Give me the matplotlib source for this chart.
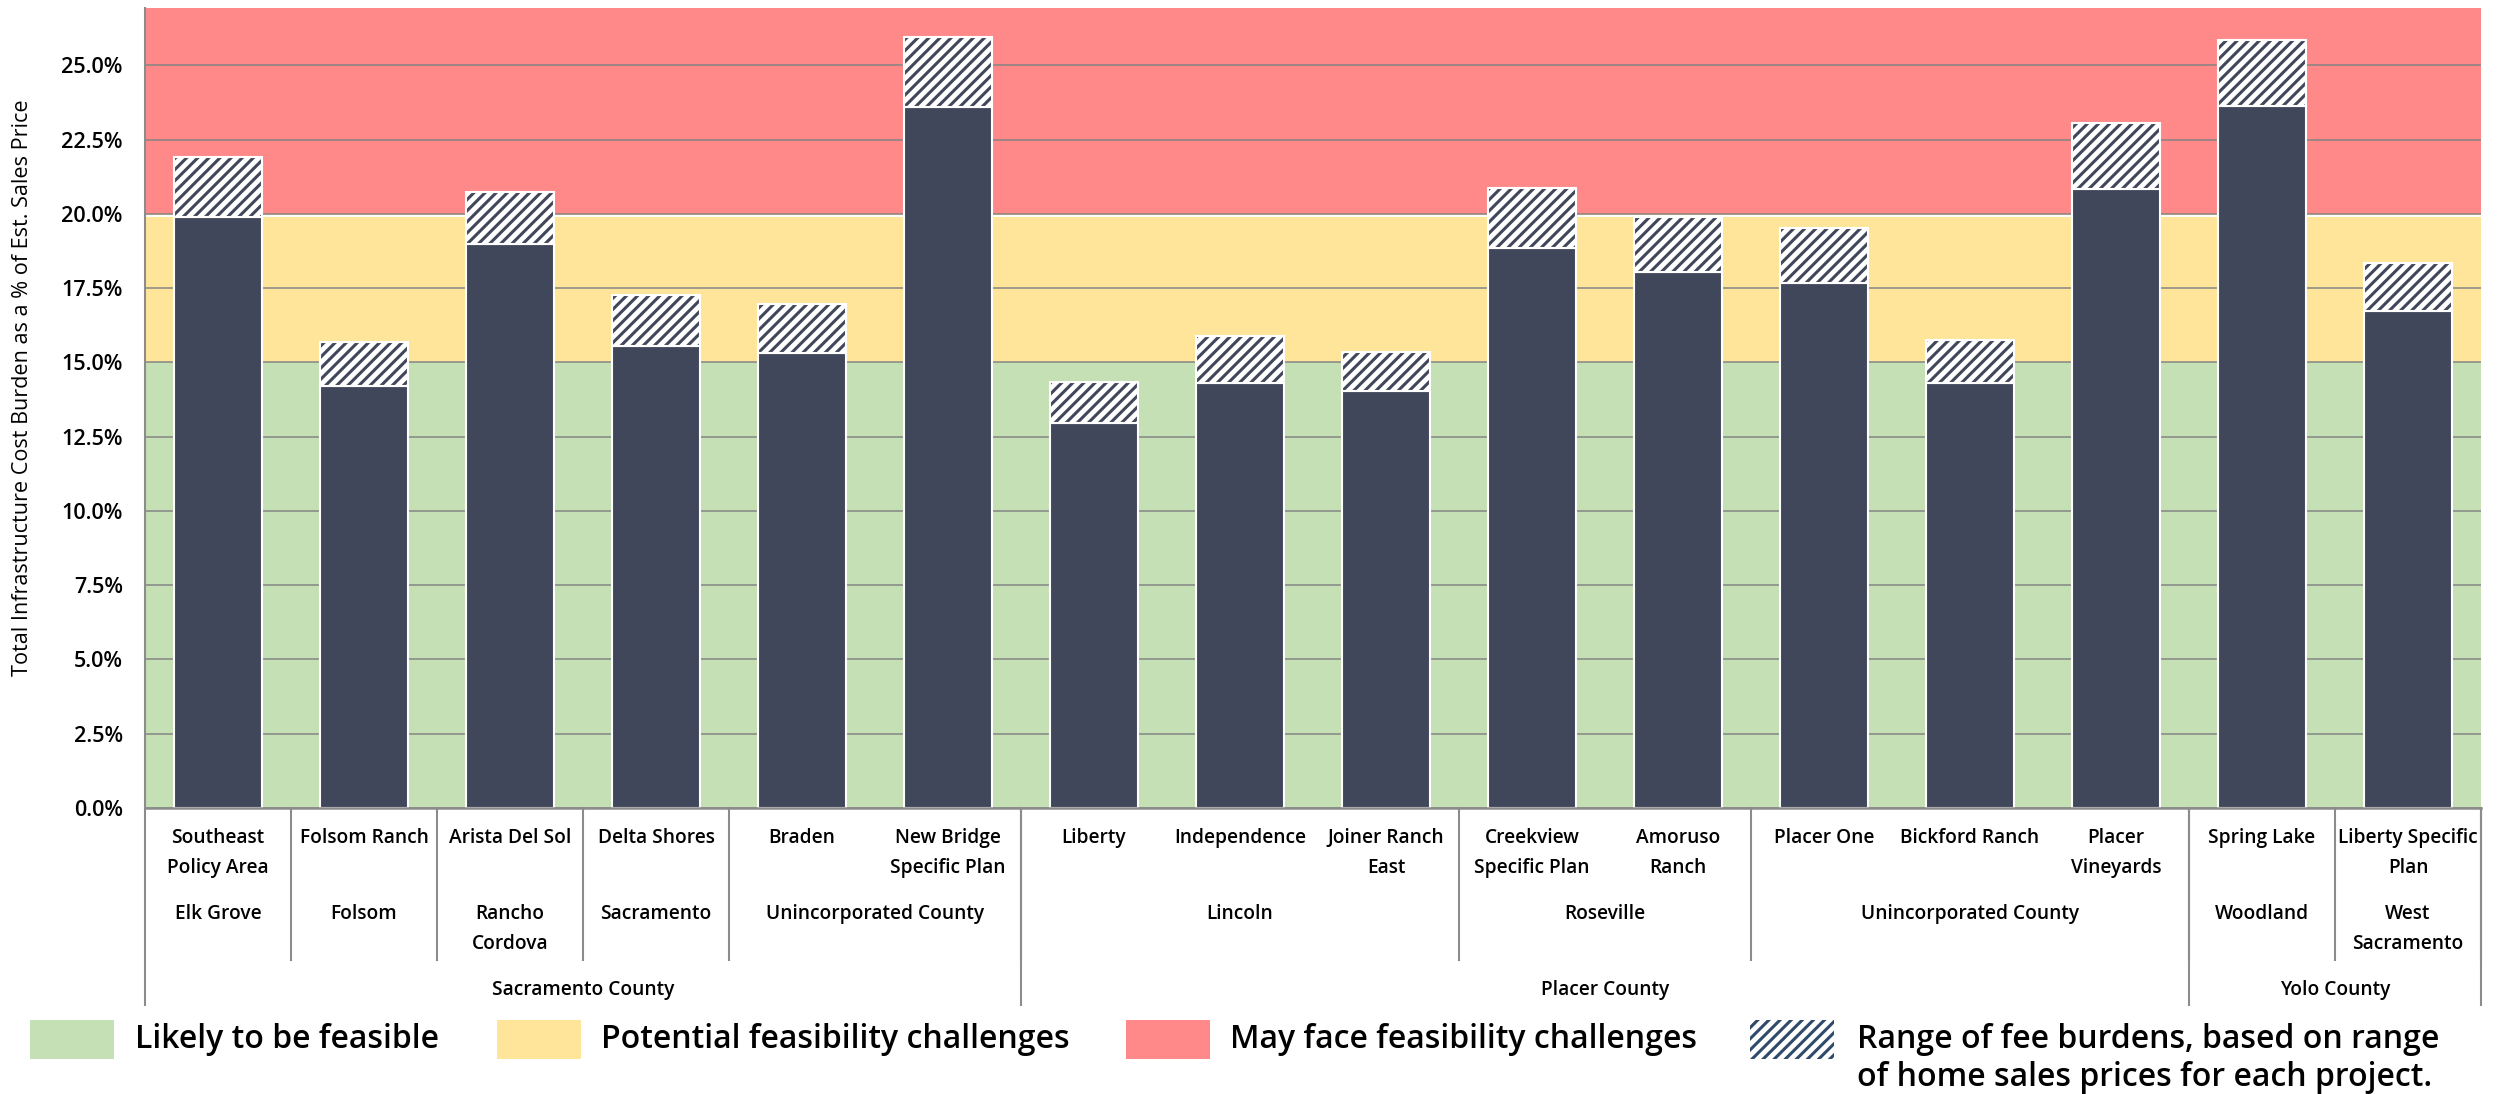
import matplotlib
matplotlib.use("Agg")
import matplotlib.pyplot as plt
from matplotlib.patches import Rectangle
from matplotlib.lines import Line2D
from matplotlib.transforms import blended_transform_factory
from matplotlib.ticker import FuncFormatter

# ---- data -------------------------------------------------------------
projects = [
    "Southeast\nPolicy Area", "Folsom Ranch", "Arista Del Sol", "Delta Shores",
    "Braden", "New Bridge\nSpecific Plan", "Liberty", "Independence",
    "Joiner Ranch\nEast", "Creekview\nSpecific Plan", "Amoruso\nRanch",
    "Placer One", "Bickford Ranch", "Placer\nVineyards", "Spring Lake",
    "Liberty Specific\nPlan",
]
cities = ["Elk Grove", "Folsom", "Rancho\nCordova", "Sacramento",
          "Unincorporated County", "Lincoln", "Roseville",
          "Unincorporated County", "Woodland", "West\nSacramento"]
city_sizes = [1, 1, 1, 1, 2, 3, 2, 3, 1, 1]
counties = ["Sacramento County", "Placer County", "Yolo County"]
county_sizes = [6, 8, 2]

# fee burden (% of est. sales price): low end and high end of range
burden_low = [19.90, 14.21, 18.97, 15.55, 15.30, 23.59, 12.95, 14.31,
              14.03, 18.86, 18.03, 17.68, 14.31, 20.85, 23.62, 16.72]
burden_high = [21.90, 15.67, 20.74, 17.27, 16.95, 25.94, 14.35, 15.90,
               15.34, 20.88, 19.90, 19.53, 15.76, 23.05, 25.84, 18.36]

yticks = [0, 2.5, 5, 7.5, 10, 12.5, 15, 17.5, 20, 22.5, 25]
band_edges = [0, 15, 20]
legend_labels = ["Likely to be feasible", "Potential feasibility challenges",
                 "May face feasibility challenges",
                 "Range of fee burdens, based on range",
                 "of home sales prices for each project."]

# ---- styling ------------------------------------------------------------
GREEN = "#C5E0B4"
YELLOW = "#FFE599"
RED = "#FF8989"
BAR = "#41475A"
GRID = "#858585"
LINE = "#8C8C8C"
YMAX = 26.93
HATCH = "//////"

W, H, DPI = 2501, 1094, 200
plt.rcParams["font.family"] = ["Open Sans", "DejaVu Sans"]
plt.rcParams["font.weight"] = "semibold"
plt.rcParams["hatch.linewidth"] = 1.1

fig = plt.figure(figsize=(W / DPI, H / DPI), dpi=DPI)
ax_left, ax_right, ax_top, ax_bottom = 145, 2481, 8, 808
ax = fig.add_axes([ax_left / W, (H - ax_bottom) / H,
                   (ax_right - ax_left) / W, (ax_bottom - ax_top) / H])

n = len(projects)
x = list(range(n))
ax.set_xlim(-0.5, n - 0.5)
ax.set_ylim(0, YMAX)

# feasibility bands
ax.axhspan(band_edges[0], band_edges[1], color=GREEN, zorder=0, lw=0)
ax.axhspan(band_edges[1], band_edges[2], color=YELLOW, zorder=0, lw=0)
ax.axhspan(band_edges[2], YMAX, color=RED, zorder=0, lw=0)
ax.axhline(band_edges[2] - 0.07, color="white", lw=0.7, zorder=0.5)

ax.set_yticks(yticks)
ax.yaxis.set_major_formatter(FuncFormatter(lambda v, p: f"{v:.1f}%"))
ax.yaxis.grid(True, color=GRID, lw=0.55, zorder=1)
ax.set_axisbelow(True)
ax.tick_params(axis="y", length=0, pad=8, labelsize=7.8)
ax.set_xticks([])
for s in ax.spines.values():
    s.set_visible(False)

ax.set_ylabel("Total Infrastructure Cost Burden as a % of Est. Sales Price",
              fontsize=7.8)
ax.yaxis.set_label_coords((33 - ax_left) / (ax_right - ax_left),
                          (ax_bottom - 388) / (ax_bottom - ax_top))

# bars: solid low end, hatched range on top
width = 0.6
rng = [h - l for h, l in zip(burden_high, burden_low)]
ax.bar(x, burden_low, width=width, color=BAR, edgecolor="white",
       lw=0.75, zorder=2)
ax.bar(x, rng, bottom=burden_low, width=width, facecolor="white",
       edgecolor=BAR, hatch=HATCH, lw=0, zorder=2)
ax.bar(x, rng, bottom=burden_low, width=width, fill=False,
       edgecolor="white", lw=0.75, zorder=3)

# ---- grouped category axis --------------------------------------------
tr = blended_transform_factory(ax.transData, fig.transFigure)


def fy(ypix):
    return (H - ypix) / H


def vline(xd, y0, y1, lw=0.75):
    fig.add_artist(Line2D([xd, xd], [fy(y0), fy(y1)], transform=tr,
                          color=LINE, lw=lw, clip_on=False))


def put_lines(xd, label, y_first, step=30):
    for k, line in enumerate(label.split("\n")):
        fig.text(xd, fy(y_first + k * step), line, transform=tr,
                 ha="center", va="center", fontsize=6.9, color="black")


# baseline
fig.add_artist(Line2D([-0.5, n - 0.5], [fy(808), fy(808)], transform=tr,
                      color=LINE, lw=0.9, clip_on=False))
# y axis line down through the category table
vline(-0.5, ax_top, 1005)

for i, name in enumerate(projects):
    put_lines(i, name, 838)

pos = 0
for name, size in zip(cities, city_sizes):
    put_lines(pos + (size - 1) / 2, name, 914)
    pos += size
    vline(pos - 0.5, 808, 960)

pos = 0
for name, size in zip(counties, county_sizes):
    put_lines(pos + (size - 1) / 2, name, 990)
    pos += size
    vline(pos - 0.5, 808, 1005)

# ---- legend --------------------------------------------------------------
def fx(xpix):
    return xpix / W


box_w, box_y0, box_y1 = 84, 1020, 1059
items = [(30, 135, GREEN, None), (497, 601, YELLOW, None),
         (1126, 1230, RED, None), (1750, 1857, "white", "#2F4A6B")]
for (bx, tx, col, hcol), lab in zip(items, legend_labels[:4]):
    if hcol is None:
        rect = Rectangle((fx(bx), fy(box_y1)), box_w / W,
                         (box_y1 - box_y0) / H, transform=fig.transFigure,
                         facecolor=col, lw=0)
    else:
        rect = Rectangle((fx(bx), fy(box_y1)), box_w / W,
                         (box_y1 - box_y0) / H, transform=fig.transFigure,
                         facecolor=col, edgecolor=hcol, hatch=HATCH, lw=0)
    fig.add_artist(rect)
    fig.text(fx(tx), fy(1039), lab, ha="left", va="center", fontsize=11.5,
             color="black")
fig.text(fx(1857), fy(1077), legend_labels[4], ha="left", va="center",
         fontsize=11.5, color="black")

fig.savefig("out.png", dpi=DPI, facecolor="white")
